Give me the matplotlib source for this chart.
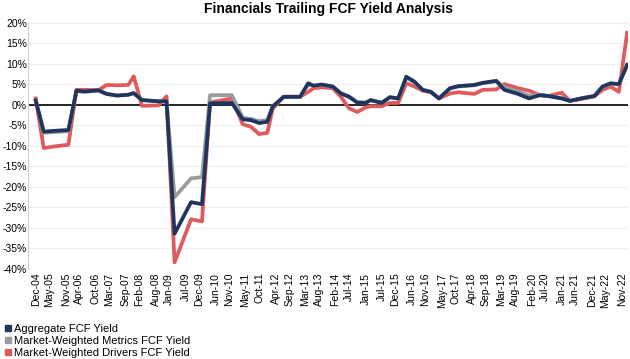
import matplotlib
matplotlib.use("Agg")
import matplotlib.pyplot as plt
from matplotlib.lines import Line2D
from matplotlib.ticker import FuncFormatter, MultipleLocator
import pandas as pd

# data (% values)
dates = ["2004-12", "2005-03", "2005-07", "2005-12", "2006-03", "2006-06", "2006-11",
         "2007-02", "2007-06", "2007-10", "2007-12", "2008-03", "2008-09", "2008-12",
         "2009-03", "2009-09", "2010-01", "2010-04", "2010-12", "2011-04", "2011-07",
         "2011-10", "2012-01", "2012-03", "2012-07", "2013-01", "2013-04", "2013-06",
         "2013-09", "2014-01", "2014-04", "2014-07", "2014-10", "2015-01", "2015-03",
         "2015-07", "2015-10", "2016-01", "2016-04", "2016-07", "2016-10", "2017-01",
         "2017-04", "2017-08", "2017-11", "2018-05", "2018-08", "2019-01", "2019-04",
         "2019-09", "2020-01", "2020-05", "2020-08", "2021-01", "2021-04", "2021-08",
         "2022-01", "2022-04", "2022-07", "2022-10", "2023-01"]

aggregate = [1.0, -6.6, -6.4, -6.2, 3.4, 3.2, 3.5,
             2.6, 2.2, 2.4, 2.8, 1.1, 0.8, 0.8,
             -31.5, -23.8, -24.3, 0.3, 0.4, -3.6, -3.8,
             -4.5, -4.2, -0.5, 1.9, 1.9, 5.2, 4.6,
             4.9, 4.4, 2.7, 1.9, 0.5, 0.4, 1.1,
             0.4, 1.8, 1.5, 6.8, 5.6, 3.6, 3.1,
             1.5, 4.0, 4.5, 4.8, 5.3, 5.8, 3.6,
             2.6, 1.5, 2.3, 2.1, 1.5, 0.9, 1.5,
             2.1, 4.4, 5.2, 5.0, 9.7]

metrics = [1.0, -6.9, -6.7, -6.5, 3.3, 3.1, 3.4,
           2.6, 2.2, 2.4, 2.8, 1.1, 0.8, 0.8,
           -22.6, -18.0, -17.7, 2.3, 2.3, -3.2, -3.5,
           -4.0, -3.8, -0.4, 1.9, 1.9, 5.0, 4.6,
           4.8, 4.4, 2.8, 2.0, 0.6, 0.5, 1.1,
           0.5, 1.8, 1.5, 6.6, 5.4, 3.6, 3.1,
           1.5, 3.9, 4.4, 4.7, 5.2, 5.7, 4.2,
           3.2, 2.2, 2.3, 2.1, 1.5, 0.9, 1.5,
           2.1, 4.3, 5.1, 5.0, 9.6]

drivers = [1.5, -10.6, -10.2, -9.8, 3.6, 3.6, 3.5,
           4.8, 4.7, 4.8, 6.9, -0.3, -0.2, 2.0,
           -38.5, -28.0, -28.5, 0.5, 1.5, -4.8, -5.4,
           -7.2, -6.9, -1.0, 1.9, 1.9, 3.1, 4.0,
           4.2, 4.0, 1.9, -0.9, -1.8, -0.7, -0.4,
           -0.4, 0.4, 0.4, 5.2, 4.4, 3.4, 3.0,
           1.5, 2.7, 3.0, 2.6, 3.6, 3.7, 5.0,
           4.0, 3.4, 2.3, 2.1, 2.9, 0.9, 1.3,
           2.0, 3.6, 4.4, 3.1, 17.5]

tick_labels = ["Dec-04", "May-05", "Nov-05", "Apr-06", "Oct-06", "Mar-07", "Sep-07",
               "Feb-08", "Aug-08", "Jan-09", "Jul-09", "Dec-09", "Jun-10", "Nov-10",
               "May-11", "Oct-11", "Apr-12", "Sep-12", "Mar-13", "Aug-13", "Feb-14",
               "Jul-14", "Jan-15", "Jul-15", "Dec-15", "Jun-16", "Nov-16", "May-17",
               "Oct-17", "Apr-18", "Sep-18", "Mar-19", "Aug-19", "Feb-20", "Jul-20",
               "Jan-21", "Jun-21", "Dec-21", "May-22", "Nov-22"]

names = ["Aggregate FCF Yield", "Market-Weighted Metrics FCF Yield",
         "Market-Weighted Drivers FCF Yield"]
colors = ["#1f3560", "#9a9d9f", "#e05a5c"]

x = pd.to_datetime(dates, format="%Y-%m")
ticks = pd.to_datetime(tick_labels, format="%b-%y")

plt.rcParams['font.family'] = ['Liberation Sans', 'DejaVu Sans']

fig = plt.figure(figsize=(6.3, 3.59), dpi=100)
ax = fig.add_axes([0.045, 0.252, 0.952, 0.685])

ax.plot(x, drivers, color=colors[2], lw=2.7, solid_joinstyle='round', zorder=3)
ax.plot(x, metrics, color=colors[1], lw=2.7, solid_joinstyle='round', zorder=4)
ax.plot(x, aggregate, color=colors[0], lw=2.7, solid_joinstyle='round', zorder=5)
ax.axhline(0, color='black', lw=1.2, zorder=2)

ax.set_ylim(-40, 20)
ax.yaxis.set_major_locator(MultipleLocator(5))
ax.yaxis.set_major_formatter(FuncFormatter(lambda v, p: "%d%%" % v))
ax.grid(axis='y', color='#efefef', lw=0.8)
ax.set_axisbelow(True)

ax.set_xlim(pd.Timestamp("2004-09-10"), pd.Timestamp("2023-01-12"))
ax.set_xticks(ticks)
ax.set_xticklabels(tick_labels, rotation=90)
ax.tick_params(axis='x', length=0, labelsize=7.5, pad=3)
ax.tick_params(axis='y', length=0, labelsize=7.5, pad=1)

for s in ['top', 'right', 'bottom']:
    ax.spines[s].set_visible(False)
ax.spines['left'].set_color('#d0d0d0')

ax.set_title("Financials Trailing FCF Yield Analysis", fontsize=10, fontweight='bold', pad=7)

handles = [Line2D([], [], color=c, marker='s', ls='none', markersize=4.5) for c in colors]
fig.legend(handles, names, loc='lower left', bbox_to_anchor=(-0.005, -0.015), frameon=False,
           fontsize=8, handletextpad=0.1, labelspacing=0.15, borderaxespad=0.2,
           handlelength=0.8)

fig.savefig("out.png", dpi=100)
